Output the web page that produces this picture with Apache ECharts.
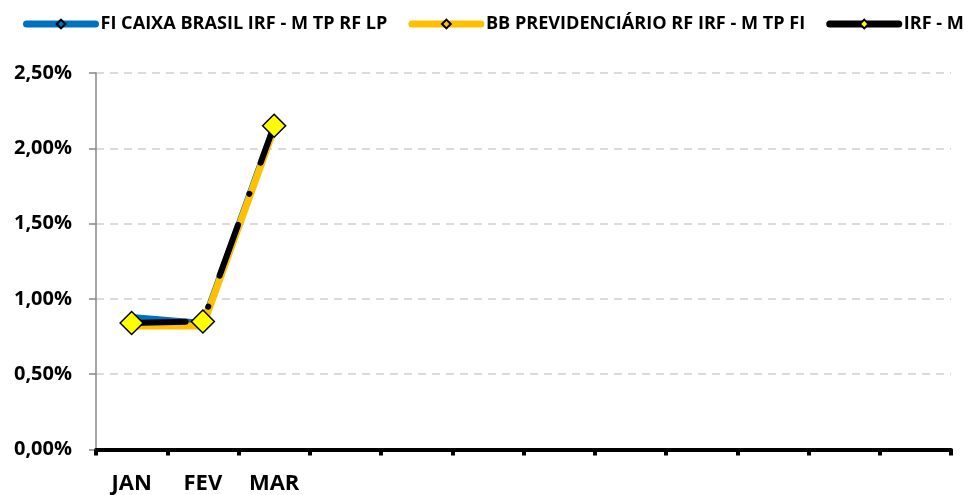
<!DOCTYPE html>
<html><head><meta charset="utf-8">
<script src="https://cdn.jsdelivr.net/npm/echarts@6/dist/echarts.min.js"></script>
<style>html,body{margin:0;padding:0;background:#fff}#c{width:971px;height:495px}</style>
</head><body><div id="c"></div>
<script>
const categories = ['JAN','FEV','MAR','','','','','','','','',''];
const seriesNames = ['FI CAIXA BRASIL IRF - M TP RF LP','BB PREVIDENCIÁRIO RF IRF - M TP FI','IRF - M'];
const caixa = [0.88, 0.84, 2.15];
const bb = [0.82, 0.82, 2.13];
const irfm = [0.84, 0.85, 2.15];
const yTicks = [0, 0.5, 1.0, 1.5, 2.0, 2.5];

const FONT = 'Open Sans';
const chart = echarts.init(document.getElementById('c'));
function fmt(v){ return v.toFixed(2).replace('.', ',') + '%'; }
chart.setOption({
  animation: false,
  textStyle: { fontFamily: FONT },
  legend: {
    left: 23, top: 15, padding: 0, width: 3000, itemWidth: 69, itemHeight: 11, itemGap: 21,
    textStyle: { fontFamily: FONT, fontWeight: 'bold', fontSize: 18.1, color: '#000' },
    data: [
      { name: seriesNames[0], lineStyle: { type: 'solid', cap: 'round', width: 7 } },
      { name: seriesNames[1], lineStyle: { type: 'solid', cap: 'round', width: 7 } },
      { name: seriesNames[2], lineStyle: { type: 'solid', cap: 'round', width: 7 } }
    ]
  },
  grid: { left: 96, right: 20, top: 73, bottom: 45.5, containLabel: false },
  xAxis: {
    type: 'category', data: categories, boundaryGap: true,
    axisLine: { lineStyle: { color: '#000', width: 4 } },
    axisTick: { show: true, length: 6, lineStyle: { color: '#000', width: 4 }, interval: 0 },
    axisLabel: { interval: 0, margin: 23, fontFamily: FONT, fontWeight: 'bold', fontSize: 22, color: '#000' },
    splitLine: { show: false }
  },
  yAxis: {
    type: 'value', min: yTicks[0], max: yTicks[yTicks.length-1], interval: 0.5,
    axisLine: { show: true, lineStyle: { color: '#888', width: 1.5 } },
    axisTick: { show: true, length: 7, lineStyle: { color: '#888', width: 1.5 } },
    axisLabel: { formatter: fmt, margin: 24, fontFamily: FONT, fontWeight: 'bold', fontSize: 20, color: '#000' },
    splitLine: { lineStyle: { color: '#d0d0d0', width: 1.5, type: [8, 6] } }
  },
  series: [
    { name: seriesNames[0], type: 'line', data: caixa, symbol: 'diamond', symbolSize: 22, showSymbol: false,
      lineStyle: { color: '#0070C0', width: 6, cap: 'round' },
      itemStyle: { color: '#0070C0', borderColor: '#000', borderWidth: 1.5 } },
    { name: seriesNames[1], type: 'line', data: bb, symbol: 'diamond', symbolSize: 22, showSymbol: false,
      lineStyle: { color: '#FFC000', width: 7, cap: 'round' },
      itemStyle: { color: '#FFC000', borderColor: '#000', borderWidth: 1.5 } },
    { name: seriesNames[2], type: 'line', data: irfm, symbol: 'diamond', symbolSize: 23,
      lineStyle: { color: '#000', width: 6, cap: 'round', type: [54, 33, 0.1, 33] },
      itemStyle: { color: '#FFFF00', borderColor: '#000', borderWidth: 1.5 } }
  ]
});
</script></body></html>
